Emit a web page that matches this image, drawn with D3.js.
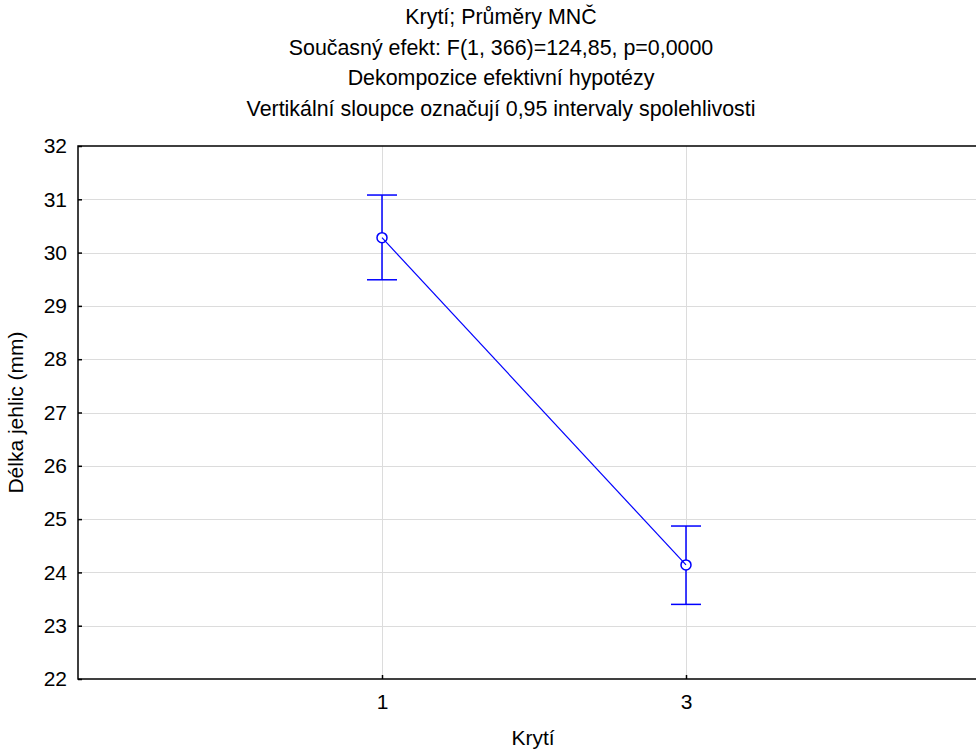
<!DOCTYPE html>
<html>
<head>
<meta charset="utf-8">
<script src="https://cdn.jsdelivr.net/npm/d3@7"></script>
<style>
  html, body { margin: 0; padding: 0; background: #fff; }
  svg { display: block; font-family: "Liberation Sans", Arial, sans-serif; }
</style>
</head>
<body>
<svg id="chart" width="976" height="749"></svg>
<script>
// Least-squares means of needle length by cover level, with 95% CI
const categories = ["1", "3"];
const means = [30.28, 24.14];
const ciLower = [29.49, 23.40];
const ciUpper = [31.08, 24.87];
const yTicks = [22, 23, 24, 25, 26, 27, 28, 29, 30, 31, 32];
const titleLines = [
  "Krytí; Průměry MNČ",
  "Současný efekt: F(1, 366)=124,85, p=0,0000",
  "Dekompozice efektivní hypotézy",
  "Vertikální sloupce označují 0,95 intervaly spolehlivosti"
];
const xTitle = "Krytí";
const yTitle = "Délka jehlic (mm)";

const svg = d3.select("#chart");
const plot = { left: 78, right: 990, top: 146, bottom: 679 };
const blue = "#0000ff";
const font = "Liberation Sans, Arial, sans-serif";

const x = d3.scalePoint().domain(categories).range([plot.left, plot.right]).padding(1);
const y = d3.scaleLinear().domain([22, 32]).range([plot.bottom, plot.top]);

// Title block
svg.append("g").selectAll("text").data(titleLines).join("text")
  .attr("x", 501)
  .attr("y", (d, i) => 24 + i * 30.7)
  .attr("text-anchor", "middle")
  .attr("font-size", 21.4)
  .attr("fill", "#000")
  .text(d => d);

// Grid lines
const grid = svg.append("g").attr("stroke", "#dcdcdc").attr("stroke-width", 1);
grid.selectAll("line.h").data(yTicks.slice(1, -1)).join("line")
  .attr("class", "h")
  .attr("x1", plot.left).attr("x2", plot.right)
  .attr("y1", d => Math.round(y(d)) + 0.5).attr("y2", d => Math.round(y(d)) + 0.5);
grid.selectAll("line.v").data(categories).join("line")
  .attr("class", "v")
  .attr("y1", plot.top).attr("y2", plot.bottom)
  .attr("x1", d => Math.round(x(d)) + 0.5).attr("x2", d => Math.round(x(d)) + 0.5);

// Axes (ticks point inward)
const yAxis = svg.append("g")
  .attr("transform", `translate(${plot.left},0)`)
  .call(d3.axisLeft(y).tickValues(yTicks).tickSize(-4).tickPadding(11).tickFormat(d3.format("d")));
yAxis.select(".domain").remove();
yAxis.selectAll("text").attr("font-size", 21).attr("fill", "#000").attr("font-family", font);
yAxis.selectAll(".tick line").attr("stroke", "#000").attr("stroke-width", 1.5);

const xAxis = svg.append("g")
  .attr("transform", `translate(0,${plot.bottom})`)
  .call(d3.axisBottom(x).tickSize(-4));
xAxis.select(".domain").remove();
xAxis.selectAll("text").attr("y", 30).attr("dy", null)
  .attr("font-size", 21).attr("fill", "#000").attr("font-family", font);
xAxis.selectAll(".tick line").attr("stroke", "#000").attr("stroke-width", 1.5);

// Plot frame
svg.append("rect")
  .attr("x", plot.left).attr("y", plot.top)
  .attr("width", plot.right - plot.left).attr("height", plot.bottom - plot.top)
  .attr("fill", "none").attr("stroke", "#000").attr("stroke-width", 1.5);

// Data rows
const rows = categories.map((c, i) => ({ c, m: means[i], lo: ciLower[i], hi: ciUpper[i] }));

// Error bars
const eb = svg.append("g").attr("stroke", blue).attr("stroke-width", 1.5);
eb.selectAll("line.stem").data(rows).join("line")
  .attr("class", "stem")
  .attr("x1", d => x(d.c)).attr("x2", d => x(d.c))
  .attr("y1", d => y(d.hi)).attr("y2", d => y(d.lo));
eb.selectAll("line.capHi").data(rows).join("line")
  .attr("class", "capHi")
  .attr("x1", d => x(d.c) - 15).attr("x2", d => x(d.c) + 15)
  .attr("y1", d => y(d.hi)).attr("y2", d => y(d.hi));
eb.selectAll("line.capLo").data(rows).join("line")
  .attr("class", "capLo")
  .attr("x1", d => x(d.c) - 15).attr("x2", d => x(d.c) + 15)
  .attr("y1", d => y(d.lo)).attr("y2", d => y(d.lo));

// Mean markers
svg.append("g").selectAll("circle").data(rows).join("circle")
  .attr("cx", d => x(d.c)).attr("cy", d => y(d.m)).attr("r", 5)
  .attr("fill", "#fff").attr("stroke", blue).attr("stroke-width", 1.5);

// Line joining the means
svg.append("path").datum(rows)
  .attr("fill", "none").attr("stroke", blue).attr("stroke-width", 1.2)
  .attr("d", d3.line().x(d => x(d.c)).y(d => y(d.m)));

// Axis titles
svg.append("text")
  .attr("x", 533).attr("y", 745)
  .attr("text-anchor", "middle").attr("font-size", 21).text(xTitle);
svg.append("text")
  .attr("transform", `translate(23,${(plot.top + plot.bottom) / 2}) rotate(-90)`)
  .attr("text-anchor", "middle").attr("font-size", 21).text(yTitle);
</script>
</body>
</html>
